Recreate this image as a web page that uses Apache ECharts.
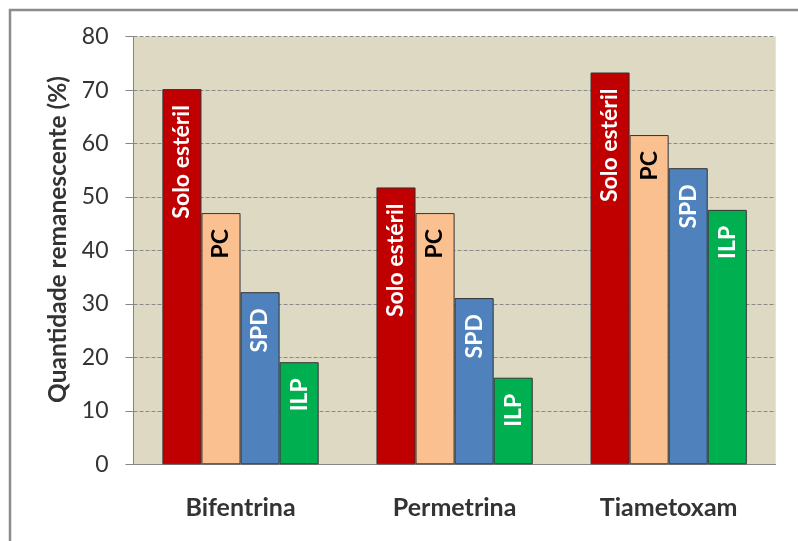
<!DOCTYPE html>
<html>
<head>
<meta charset="utf-8">
<script src="https://cdn.jsdelivr.net/npm/echarts@6/dist/echarts.min.js"></script>
<style>
  html, body { margin: 0; padding: 0; background: #fff; }
  #main { width: 798px; height: 541px; }
</style>
</head>
<body>
<div id="main"></div>
<script>
// categorias (inseticidas)
var categorias = ['Bifentrina', 'Permetrina', 'Tiametoxam'];
// quantidade remanescente (%) por tipo de solo
var soloEsteril = [70.2, 51.8, 73.3];
var pc = [47.0, 47.0, 61.6];
var spd = [32.2, 31.1, 55.4];
var ilp = [19.1, 16.2, 47.6];
var yTicks = [0, 10, 20, 30, 40, 50, 60, 70, 80];

var fonte = 'Lato, "Open Sans", sans-serif';

function serie(nome, dados, cor, corTexto) {
  return {
    name: nome,
    type: 'bar',
    data: dados,
    barGap: '0%',
    barCategoryGap: '27%',
    itemStyle: { color: cor, borderColor: '#333', borderWidth: 1 },
    label: {
      show: true,
      formatter: '{a}',
      position: 'insideTop',
      rotate: 90,
      align: 'right',
      verticalAlign: 'middle',
      distance: 16,
      color: corTexto,
      fontFamily: fonte,
      fontWeight: 'bold',
      fontSize: 23
    }
  };
}

var myChart = echarts.init(document.getElementById('main'));
myChart.setOption({
  animation: false,
  backgroundColor: '#fff',
  graphic: [{
    type: 'rect',
    shape: { x: 10, y: 10, width: 800, height: 540 },
    style: { fill: 'none', stroke: '#8c8c8c', lineWidth: 2.5 },
    z: 100
  }],
  grid: {
    left: 133.5,
    right: 22.3,
    top: 36.7,
    bottom: 76.7,
    show: true,
    backgroundColor: '#ddd9c3',
    borderWidth: 0
  },
  xAxis: {
    type: 'category',
    data: categorias,
    axisLine: { lineStyle: { color: '#868686', width: 1 } },
    axisTick: { length: 11, lineStyle: { color: '#868686' } },
    axisLabel: {
      margin: 31,
      color: '#333',
      fontFamily: fonte,
      fontWeight: 'bold',
      fontSize: 25
    }
  },
  yAxis: {
    type: 'value',
    min: 0,
    max: 80,
    interval: 10,
    name: 'Quantidade remanescente (%)',
    nameLocation: 'middle',
    nameRotate: 90,
    nameGap: 62,
    nameTextStyle: {
      color: '#333',
      fontFamily: fonte,
      fontWeight: 'bold',
      fontSize: 24.5,
      padding: [0, 0, 0, 22]
    },
    axisLine: { show: true, lineStyle: { color: '#868686', width: 1 } },
    axisTick: { show: true, length: 8, lineStyle: { color: '#868686' } },
    axisLabel: {
      margin: 25,
      color: '#333',
      fontFamily: fonte,
      fontSize: 23,
      formatter: function (v) { return yTicks.indexOf(v) >= 0 ? String(v) : ''; }
    },
    splitLine: { show: true, lineStyle: { color: '#8a8a8a', type: 'dashed', width: 1 } }
  },
  series: [
    serie('Solo estéril', soloEsteril, '#c00000', '#fff'),
    serie('PC', pc, '#fac090', '#000'),
    serie('SPD', spd, '#4f81bd', '#fff'),
    serie('ILP', ilp, '#00b050', '#fff')
  ]
});
window.onresize = function () { myChart.resize(); };
</script>
</body>
</html>
